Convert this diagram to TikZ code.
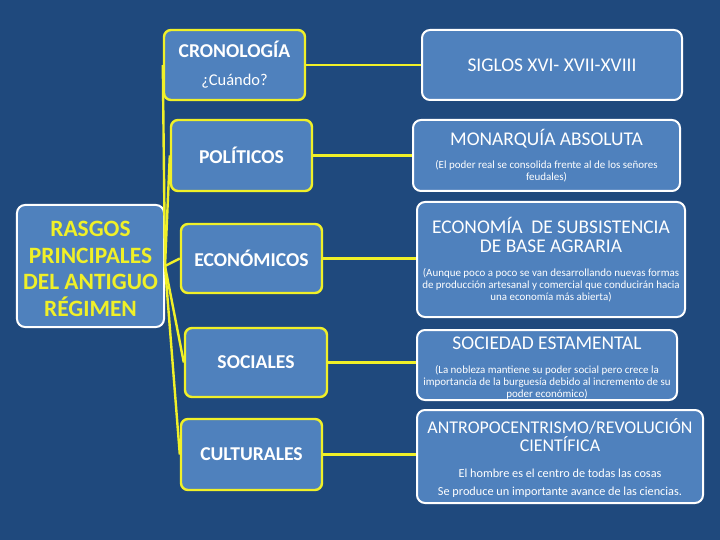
\documentclass[tikz,border=0pt]{standalone}
\usepackage{fontspec}
\setmainfont{Carlito}
\definecolor{bgblue}{RGB}{31,73,125}
\definecolor{boxblue}{RGB}{79,129,189}
\definecolor{lineyellow}{RGB}{240,240,40}
\newcommand{\subtxt}{\fontsize{11}{12}\selectfont}
\newcommand{\asktxt}{\mdseries\fontsize{16.5}{12}\selectfont}
\newcommand{\notetxt}{\fontsize{12.3}{12}\selectfont}
\begin{document}
\begin{tikzpicture}[x=1bp,y=-1bp,
    mainbox/.style={draw=white, line width=2bp, fill=boxblue, rounded corners=8bp,
      inner sep=0pt, align=center, text=lineyellow, font=\bfseries\fontsize{23.5}{26.5}\selectfont},
    midbox/.style={draw=lineyellow, line width=2.4bp, fill=boxblue, rounded corners=7bp,
      inner sep=0pt, align=center, text=white, font=\bfseries\fontsize{19.7}{12}\selectfont},
    infobox/.style={draw=white, line width=2bp, fill=boxblue, rounded corners=8bp,
      inner sep=0pt, align=center, text=white, font=\fontsize{19.5}{12}\selectfont},
    link/.style={draw=lineyellow, line width=2.4bp}]
      \fill[bgblue] (0,0) rectangle (720,540);
      \useasboundingbox (0,0) rectangle (720,540);
      % left column
      \node[mainbox, minimum width=147bp, minimum height=122bp] at (90.5,266) (rasgos)
        {\rule{0pt}{21bp}RASGOS\\PRINCIPALES\\DEL ANTIGUO\\RÉGIMEN};
      % middle column
      \node[midbox, minimum width=141bp, minimum height=70bp] at (234.5,65) (crono)
        {CRONOLOGÍA\\[16bp]\asktxt ¿Cuándo?};
      \node[midbox, minimum width=141bp, minimum height=71bp] at (241.5,155.5) (polit) {POLÍTICOS};
      \node[midbox, minimum width=141bp, minimum height=69bp] at (251.5,258.5) (econ) {ECONÓMICOS};
      \node[midbox, minimum width=142bp, minimum height=69bp] at (256,362.5) (soc) {SOCIALES};
      \node[midbox, minimum width=141bp, minimum height=71bp] at (251.5,454.5) (cult) {CULTURALES};
      % right column
      \node[infobox, minimum width=260bp, minimum height=70bp] at (552,65) (siglos)
        {SIGLOS XVI- XVII-XVIII};
      \node[infobox, minimum width=267bp, minimum height=71bp] at (546.5,155.5) (monar)
        {MONARQUÍA ABSOLUTA\\[11bp]
         \subtxt (El poder real se consolida frente al de los señores\\
         \subtxt feudales)};
      \node[infobox, minimum width=268bp, minimum height=115bp] at (551,259.5) (econr)
        {ECONOMÍA \ DE SUBSISTENCIA\\[6bp]DE BASE AGRARIA\\[12bp]
         \subtxt (Aunque poco a poco se van desarrollando nuevas formas\\
         \subtxt de producción artesanal y comercial que conducirán hacia\\
         \subtxt una economía más abierta)};
      \node[infobox, minimum width=260bp, minimum height=70bp] at (547,365) (socr)
        {\rule{0pt}{18.6bp}SOCIEDAD ESTAMENTAL\\[12bp]
         \subtxt (La nobleza mantiene su poder social pero crece la\\
         \subtxt importancia de la burguesía debido al incremento de su\\
         \subtxt poder económico)};
      \node[infobox, minimum width=286bp, minimum height=93bp] at (560,456.5) (antro)
        {\fontsize{18}{12}\selectfont\rule{0pt}{18bp}ANTROPOCENTRISMO/REVOLUCIÓN\\[2bp]
         \fontsize{18}{12}\selectfont CIENTÍFICA\\[14bp]
         \notetxt El hombre es el centro de todas las cosas\\[6bp]
         \notetxt Se produce un importante avance de las ciencias.};
      % connectors
      \draw[link] (rasgos.east) -- (crono.west);
      \draw[link] (rasgos.east) -- (polit.west);
      \draw[link] (rasgos.east) -- (econ.west);
      \draw[link] (rasgos.east) -- (soc.west);
      \draw[link] (rasgos.east) -- (cult.west);
      \draw[link] (crono) -- (siglos);
      \draw[link] (polit) -- (monar);
      \draw[link] (econ.east) -- (econr.west |- econ.east);
      \draw[link] (soc.east) -- (socr.west |- soc.east);
      \draw[link] (cult.east) -- (antro.west |- cult.east);
    \end{tikzpicture}
\end{document}
